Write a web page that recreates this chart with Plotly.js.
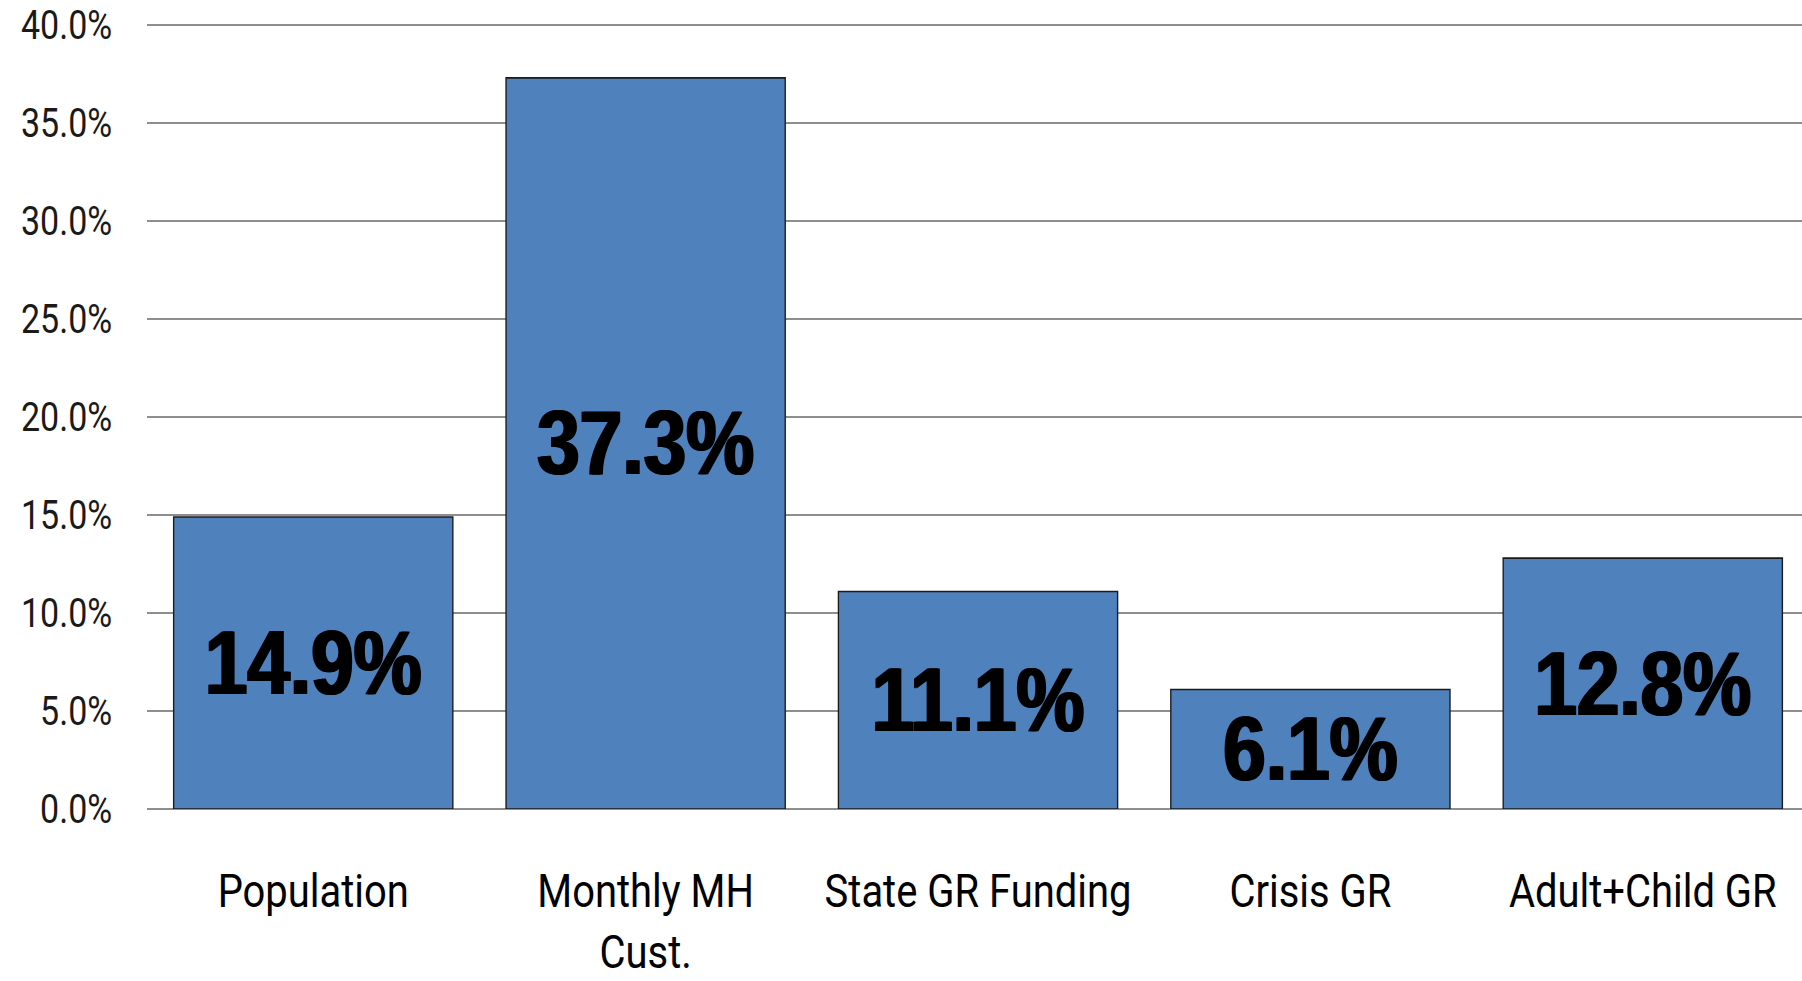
<!DOCTYPE html>
<html>
<head>
<meta charset="utf-8">
<script src="https://cdn.plot.ly/plotly-3.0.1.min.js"></script>
<style>
  html, body { margin: 0; padding: 0; overflow: hidden; background: #ffffff; }
  #wrap { width: 1802px; height: 981px; overflow: hidden; position: relative; }
  #chart { width: 2120px; height: 981px; transform: scaleX(0.85); transform-origin: 0 0; }
</style>
</head>
<body>
<div id="wrap"><div id="chart"></div></div>
<script>
// Data
var categories = ['Population', 'Monthly MH<br>Cust.', 'State GR Funding', 'Crisis GR', 'Adult+Child GR'];
var values = [14.9, 37.3, 11.1, 6.1, 12.8];
var yTickValues = [0, 5, 10, 15, 20, 25, 30, 35, 40];

var trace = {
  type: 'bar',
  x: categories,
  y: values,
  marker: { color: '#4F81BD', line: { color: '#1a1a1a', width: 1.6 } },
  texttemplate: '%{y:.1f}%',
  textposition: 'inside',
  insidetextanchor: 'middle',
  textangle: 0,
  textfont: {
    family: 'Liberation Sans, Arial, sans-serif', size: 90, color: '#000000', weight: 700,
    shadow: '1.5px 0px 0px #000000, -1.5px 0px 0px #000000'
  },
  hoverinfo: 'none'
};

var layout = {
  width: 2120,
  height: 981,
  margin: { l: 173, r: 0, t: 23, b: 172, pad: 0 },
  paper_bgcolor: '#ffffff',
  plot_bgcolor: '#ffffff',
  showlegend: false,
  bargap: 0.16,
  xaxis: {
    type: 'category',
    range: [-0.5, 4.479],
    showgrid: false,
    zeroline: false,
    showline: false,
    ticks: '',
    ticklabelstandoff: 50,
    ticklabeloverflow: 'allow',
    tickfont: { family: 'Roboto, sans-serif', size: 47, color: '#000000' },
    fixedrange: true
  },
  yaxis: {
    range: [0, 40.1],
    tickvals: yTickValues,
    ticktext: yTickValues.map(function (v) { return v.toFixed(1) + '%'; }),
    showgrid: true,
    gridcolor: '#8e8e8e',
    gridwidth: 2,
    zeroline: true,
    zerolinecolor: '#8e8e8e',
    zerolinewidth: 2,
    showline: false,
    ticks: '',
    ticklabelstandoff: 40,
    ticklabeloverflow: 'allow',
    tickfont: { family: 'Roboto, sans-serif', size: 40, color: '#1a1a1a' },
    fixedrange: true
  }
};

Plotly.newPlot('chart', [trace], layout, { staticPlot: true, displayModeBar: false, responsive: false });
</script>
</body>
</html>
